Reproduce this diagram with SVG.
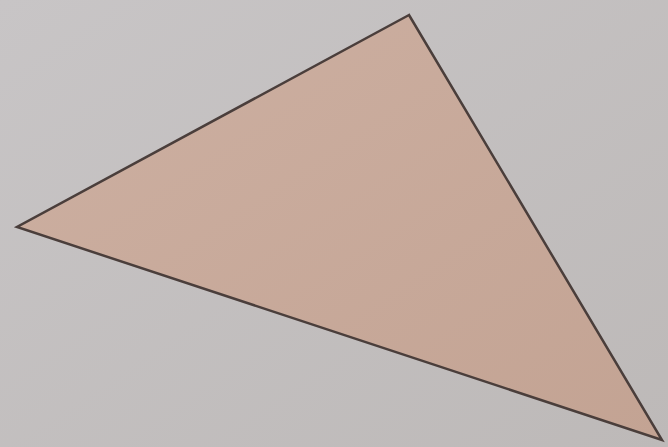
<svg xmlns="http://www.w3.org/2000/svg" width="668" height="447" viewBox="0 0 668 447">
<defs>
<linearGradient id="bg" x1="0" y1="0" x2="1" y2="1">
<stop offset="0" stop-color="#c8c5c6"/>
<stop offset="1" stop-color="#bdb9b8"/>
</linearGradient>
<linearGradient id="tri" x1="0" y1="0" x2="1" y2="1">
<stop offset="0" stop-color="#cdb0a2"/>
<stop offset="1" stop-color="#c3a393"/>
</linearGradient>
</defs>
<rect width="668" height="447" fill="url(#bg)"/>
<g id="triangle">
<polygon points="409,15 17,227 662,440" fill="url(#tri)" stroke="#4a3e3b" stroke-width="2.5" stroke-linejoin="miter"/>
</g>
</svg>
